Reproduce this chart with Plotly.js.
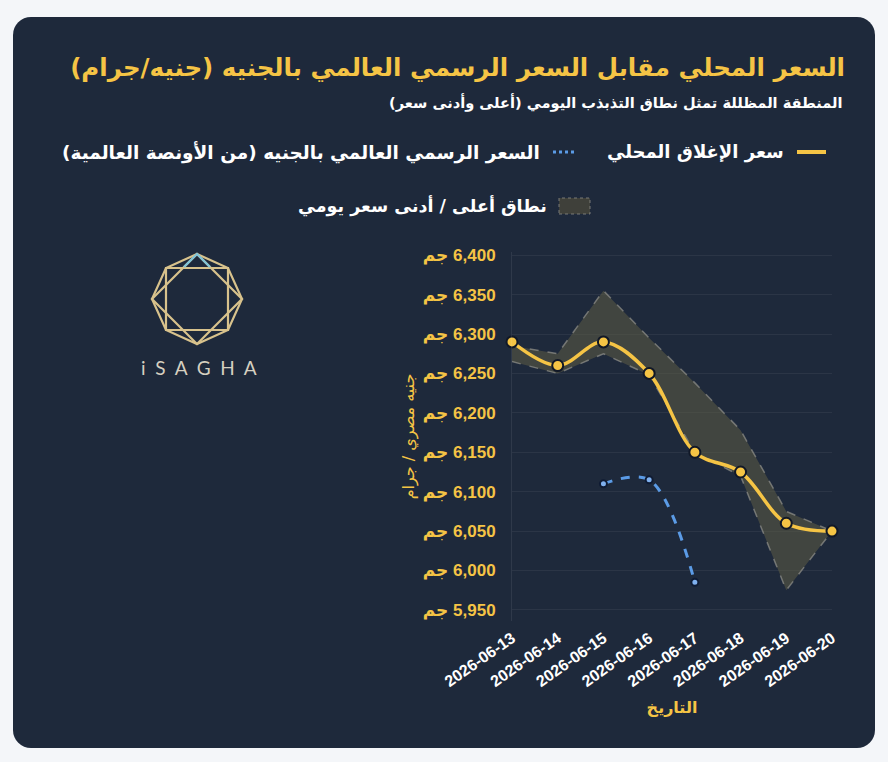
<!DOCTYPE html>
<html><head><meta charset="utf-8">
<script src="https://cdn.plot.ly/plotly-3.0.1.min.js"></script>
<style>
html,body{margin:0;padding:0;background:#f4f6f9;width:888px;height:762px;overflow:hidden}
#card{position:absolute;left:13px;top:17px;width:862px;height:731px;background:#1e293b;border-radius:18px}
#chart{position:absolute;left:0;top:0;width:888px;height:762px}
</style></head>
<body>
<div id="card"></div>
<div id="chart"></div>
<script>
const dates = ["2026-06-13","2026-06-14","2026-06-15","2026-06-16","2026-06-17","2026-06-18","2026-06-19","2026-06-20"];
const closePrice = [6290, 6260, 6290, 6250, 6150, 6125, 6060, 6050];
const dayHigh    = [6285, 6275, 6355, 6295, 6238, 6178, 6075, 6050];
const dayLow     = [6265, 6250, 6275, 6248, 6150, 6120, 5975, 6050];
const worldDates = ["2026-06-15","2026-06-16","2026-06-17"];
const worldPrice = [6110, 6115, 5985];
const yTickVals  = [5950, 6000, 6050, 6100, 6150, 6200, 6250, 6300, 6350, 6400];
const yTickText  = ["5,950","6,000","6,050","6,100","6,150","6,200","6,250","6,300","6,350","6,400"].map(s => 'جم\u200E ' + s);

const GOLD = '#f5c445';
const AR = 'DejaVu Sans, Noto Sans, sans-serif';
const NUM = 'Liberation Sans, Arial, DejaVu Sans, sans-serif';

// pixel -> paper helpers (plot area: x 512..832, y 252..621)
const L=512, R=832, T=252, B=621;
const px = x => (x-L)/(R-L);
const py = y => (B-y)/(B-T);

const traces = [
  {x:dates, y:dayHigh, type:'scatter', mode:'lines', line:{color:'rgba(140,140,135,0.75)', width:1.5, dash:'dash'}, hoverinfo:'skip', showlegend:false},
  {x:dates, y:dayLow, type:'scatter', mode:'lines', fill:'tonexty', fillcolor:'rgba(95,92,70,0.55)', line:{color:'rgba(140,140,135,0.75)', width:1.5, dash:'dash'}, hoverinfo:'skip', showlegend:false},
  {x:worldDates, y:worldPrice, type:'scatter', mode:'lines+markers', line:{color:'#5b9be6', width:3, dash:'dash', shape:'spline'}, marker:{size:7, color:'#7fb0ee', line:{color:'#0f1b33', width:2}}, showlegend:false, cliponaxis:false},
  {x:dates, y:closePrice, type:'scatter', mode:'lines+markers', line:{color:GOLD, width:3.5, shape:'spline'}, marker:{size:11, color:GOLD, line:{color:'#111827', width:2}}, showlegend:false, cliponaxis:false}
];

// logo geometry (pixels relative to logo centre)
const logoX = px(197), logoY = py(299);
const logoShape = (path, color, w) => ({type:'path', xref:'paper', yref:'paper', xsizemode:'pixel', ysizemode:'pixel', xanchor:logoX, yanchor:logoY, path:path, line:{color:color, width:w}, layer:'above'});

const shapes = [
  logoShape('M0,45 L45,0 L0,-45 L-45,0 Z', '#d8c28c', 2.2),
  logoShape('M-31,31 L31,31 L31,-31 L-31,-31 Z', '#d8c28c', 2.2),
  logoShape('M0,45 L31,31 L45,0 L31,-31 L0,-45 L-31,-31 L-45,0 L-31,31 Z', '#d8c28c', 2.2),
  logoShape('M-13,32 L0,45 L13,32', '#7fc3d8', 2.2),
  // legend symbols
  {type:'line', xref:'paper', yref:'paper', x0:px(797), x1:px(826), y0:py(152), y1:py(152), line:{color:GOLD, width:4}},
  {type:'line', xref:'paper', yref:'paper', x0:px(553), x1:px(576), y0:py(152), y1:py(152), line:{color:'#5b9be6', width:3, dash:'dot'}},
  {type:'rect', xref:'paper', yref:'paper', x0:px(559), x1:px(590), y0:py(214), y1:py(198), fillcolor:'#3f403a', line:{color:'rgba(140,140,135,0.8)', width:1, dash:'dot'}}
];

const annotations = [
  {text:'المنطقة المظللة تمثل نطاق التذبذب اليومي (أعلى وأدنى سعر)', xref:'paper', yref:'paper', x:px(845), y:py(103), xanchor:'right', yanchor:'middle', showarrow:false, font:{family:AR, size:14.6, color:'#ffffff', weight:'bold'}},
  {text:'سعر الإغلاق المحلي', xref:'paper', yref:'paper', x:px(786), y:py(152), xanchor:'right', yanchor:'middle', showarrow:false, font:{family:AR, size:18, color:'#ffffff', weight:'bold'}},
  {text:'السعر الرسمي العالمي بالجنيه (من الأونصة العالمية)', xref:'paper', yref:'paper', x:px(542), y:py(152), xanchor:'right', yanchor:'middle', showarrow:false, font:{family:AR, size:18.5, color:'#ffffff', weight:'bold'}},
  {text:'نطاق أعلى / أدنى سعر يومي', xref:'paper', yref:'paper', x:px(549), y:py(206), xanchor:'right', yanchor:'middle', showarrow:false, font:{family:AR, size:17.5, color:'#ffffff', weight:'bold'}},
  {text:'i\u00a0\u00a0S\u00a0\u00a0A\u00a0\u00a0G\u00a0\u00a0H\u00a0\u00a0A', xref:'paper', yref:'paper', x:px(199), y:py(367), xanchor:'center', yanchor:'middle', showarrow:false, font:{family:'Lato, Noto Sans, sans-serif', size:19, color:'#d6d0c0', weight:400}}
];

const layout = {
  width:888, height:762,
  paper_bgcolor:'rgba(0,0,0,0)', plot_bgcolor:'rgba(0,0,0,0)',
  margin:{l:L, r:888-R, t:T, b:762-B, pad:0},
  showlegend:false,
  title:{text:'السعر المحلي مقابل السعر الرسمي العالمي بالجنيه (جنيه/جرام)', xref:'container', yref:'container', x:845/888, xanchor:'right', y:1-67/762, yanchor:'middle', font:{family:AR, size:24.5, color:GOLD, weight:'bold'}},
  xaxis:{type:'category', range:[0,7], showgrid:false, zeroline:false, showline:false, tickangle:-35, ticks:'', ticklabelstandoff:4,
    tickfont:{family:NUM, size:16, color:'#ffffff', weight:'bold'},
    title:{text:'التاريخ', font:{family:AR, size:16, color:GOLD, weight:'bold'}, standoff:12}},
  yaxis:{range:[5936, 6404], tickvals:yTickVals, ticktext:yTickText,
    showgrid:true, gridcolor:'rgba(255,255,255,0.06)', gridwidth:1, zeroline:false, showline:true, linecolor:'rgba(255,255,255,0.08)', linewidth:1,
    ticks:'', ticklabelstandoff:12,
    tickfont:{family:NUM, size:17, color:GOLD, weight:'bold'},
    title:{text:'جنيه مصري / جرام', font:{family:AR, size:16, color:GOLD}, standoff:4}},
  shapes:shapes, annotations:annotations,
  hovermode:false
};

Plotly.newPlot('chart', traces, layout, {staticPlot:true, displayModeBar:false});
</script>
</body></html>
